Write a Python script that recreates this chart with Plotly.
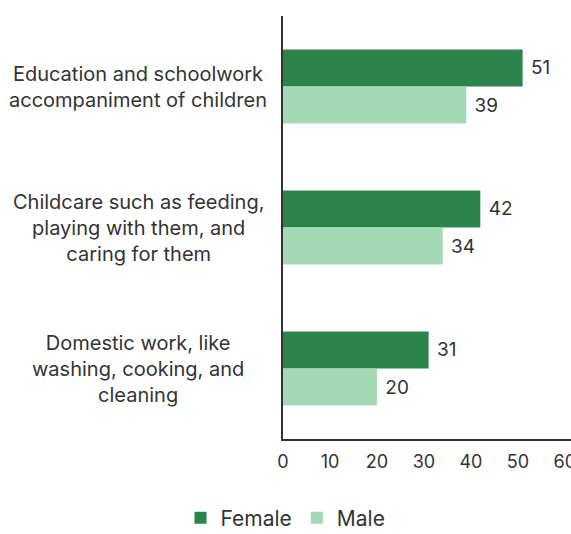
import plotly.graph_objects as go

# Activity categories (top to bottom) and their wrapped display labels
categories = [
    "Education and schoolwork accompaniment of children",
    "Childcare such as feeding, playing with them, and caring for them",
    "Domestic work, like washing, cooking, and cleaning",
]
category_labels = [
    "Education and schoolwork<br>accompaniment of children",
    "Childcare such as feeding,<br>playing with them, and<br>caring for them",
    "Domestic work, like<br>washing, cooking, and<br>cleaning",
]
female_values = [51, 42, 31]
male_values = [39, 34, 20]
x_ticks = [0, 10, 20, 30, 40, 50, 60]

FONT = "Inter, Roboto, sans-serif"
TEXT = "#333333"

fig = go.Figure()
fig.add_trace(go.Bar(
    y=categories, x=female_values, name="Female", orientation="h",
    marker=dict(color="#2b854b", line=dict(width=0)),
    text=female_values, texttemplate=" %{x}", textposition="outside",
    cliponaxis=False,
    textfont=dict(family=FONT, size=19, color=TEXT),
))
fig.add_trace(go.Bar(
    y=categories, x=male_values, name="Male", orientation="h",
    marker=dict(color="#a3d9b4", line=dict(width=0)),
    text=male_values, texttemplate=" %{x}", textposition="outside",
    cliponaxis=False,
    textfont=dict(family=FONT, size=19, color=TEXT),
))

# Centered multi-line category labels to the left of the axis
for cat, lab in zip(categories, category_labels):
    fig.add_annotation(
        x=-0.503, xref="paper", y=cat, yref="y",
        text=lab, showarrow=False, xanchor="center", yanchor="middle",
        align="center", font=dict(family=FONT, size=20, color=TEXT),
    )

fig.update_layout(
    width=571, height=534,
    margin=dict(l=283, r=0, t=16, b=95),
    paper_bgcolor="white", plot_bgcolor="white",
    barmode="group", bargap=0.475, bargroupgap=0,
    font=dict(family=FONT, color=TEXT),
    showlegend=True,
    legend=dict(
        orientation="h", xref="container", yref="container",
        x=0.5, xanchor="center", y=0.03, yanchor="middle",
        font=dict(family=FONT, size=21, color=TEXT),
        itemwidth=30, traceorder="normal",
    ),
    xaxis=dict(
        range=[0, 61.3], tickvals=x_ticks, showgrid=False, zeroline=False,
        showline=True, linecolor="#333333", linewidth=1.5,
        ticks="", tickfont=dict(family=FONT, size=18, color=TEXT),
        ticklabelstandoff=6, ticklabeloverflow="allow",
        automargin=False, fixedrange=True,
    ),
    yaxis=dict(
        categoryorder="array", categoryarray=categories,
        range=[2.5, -0.5], showticklabels=False, showgrid=False,
        zeroline=False, showline=True, linecolor="#333333", linewidth=1.5,
        ticks="", automargin=False,
    ),
)

fig.write_html("out.html")
